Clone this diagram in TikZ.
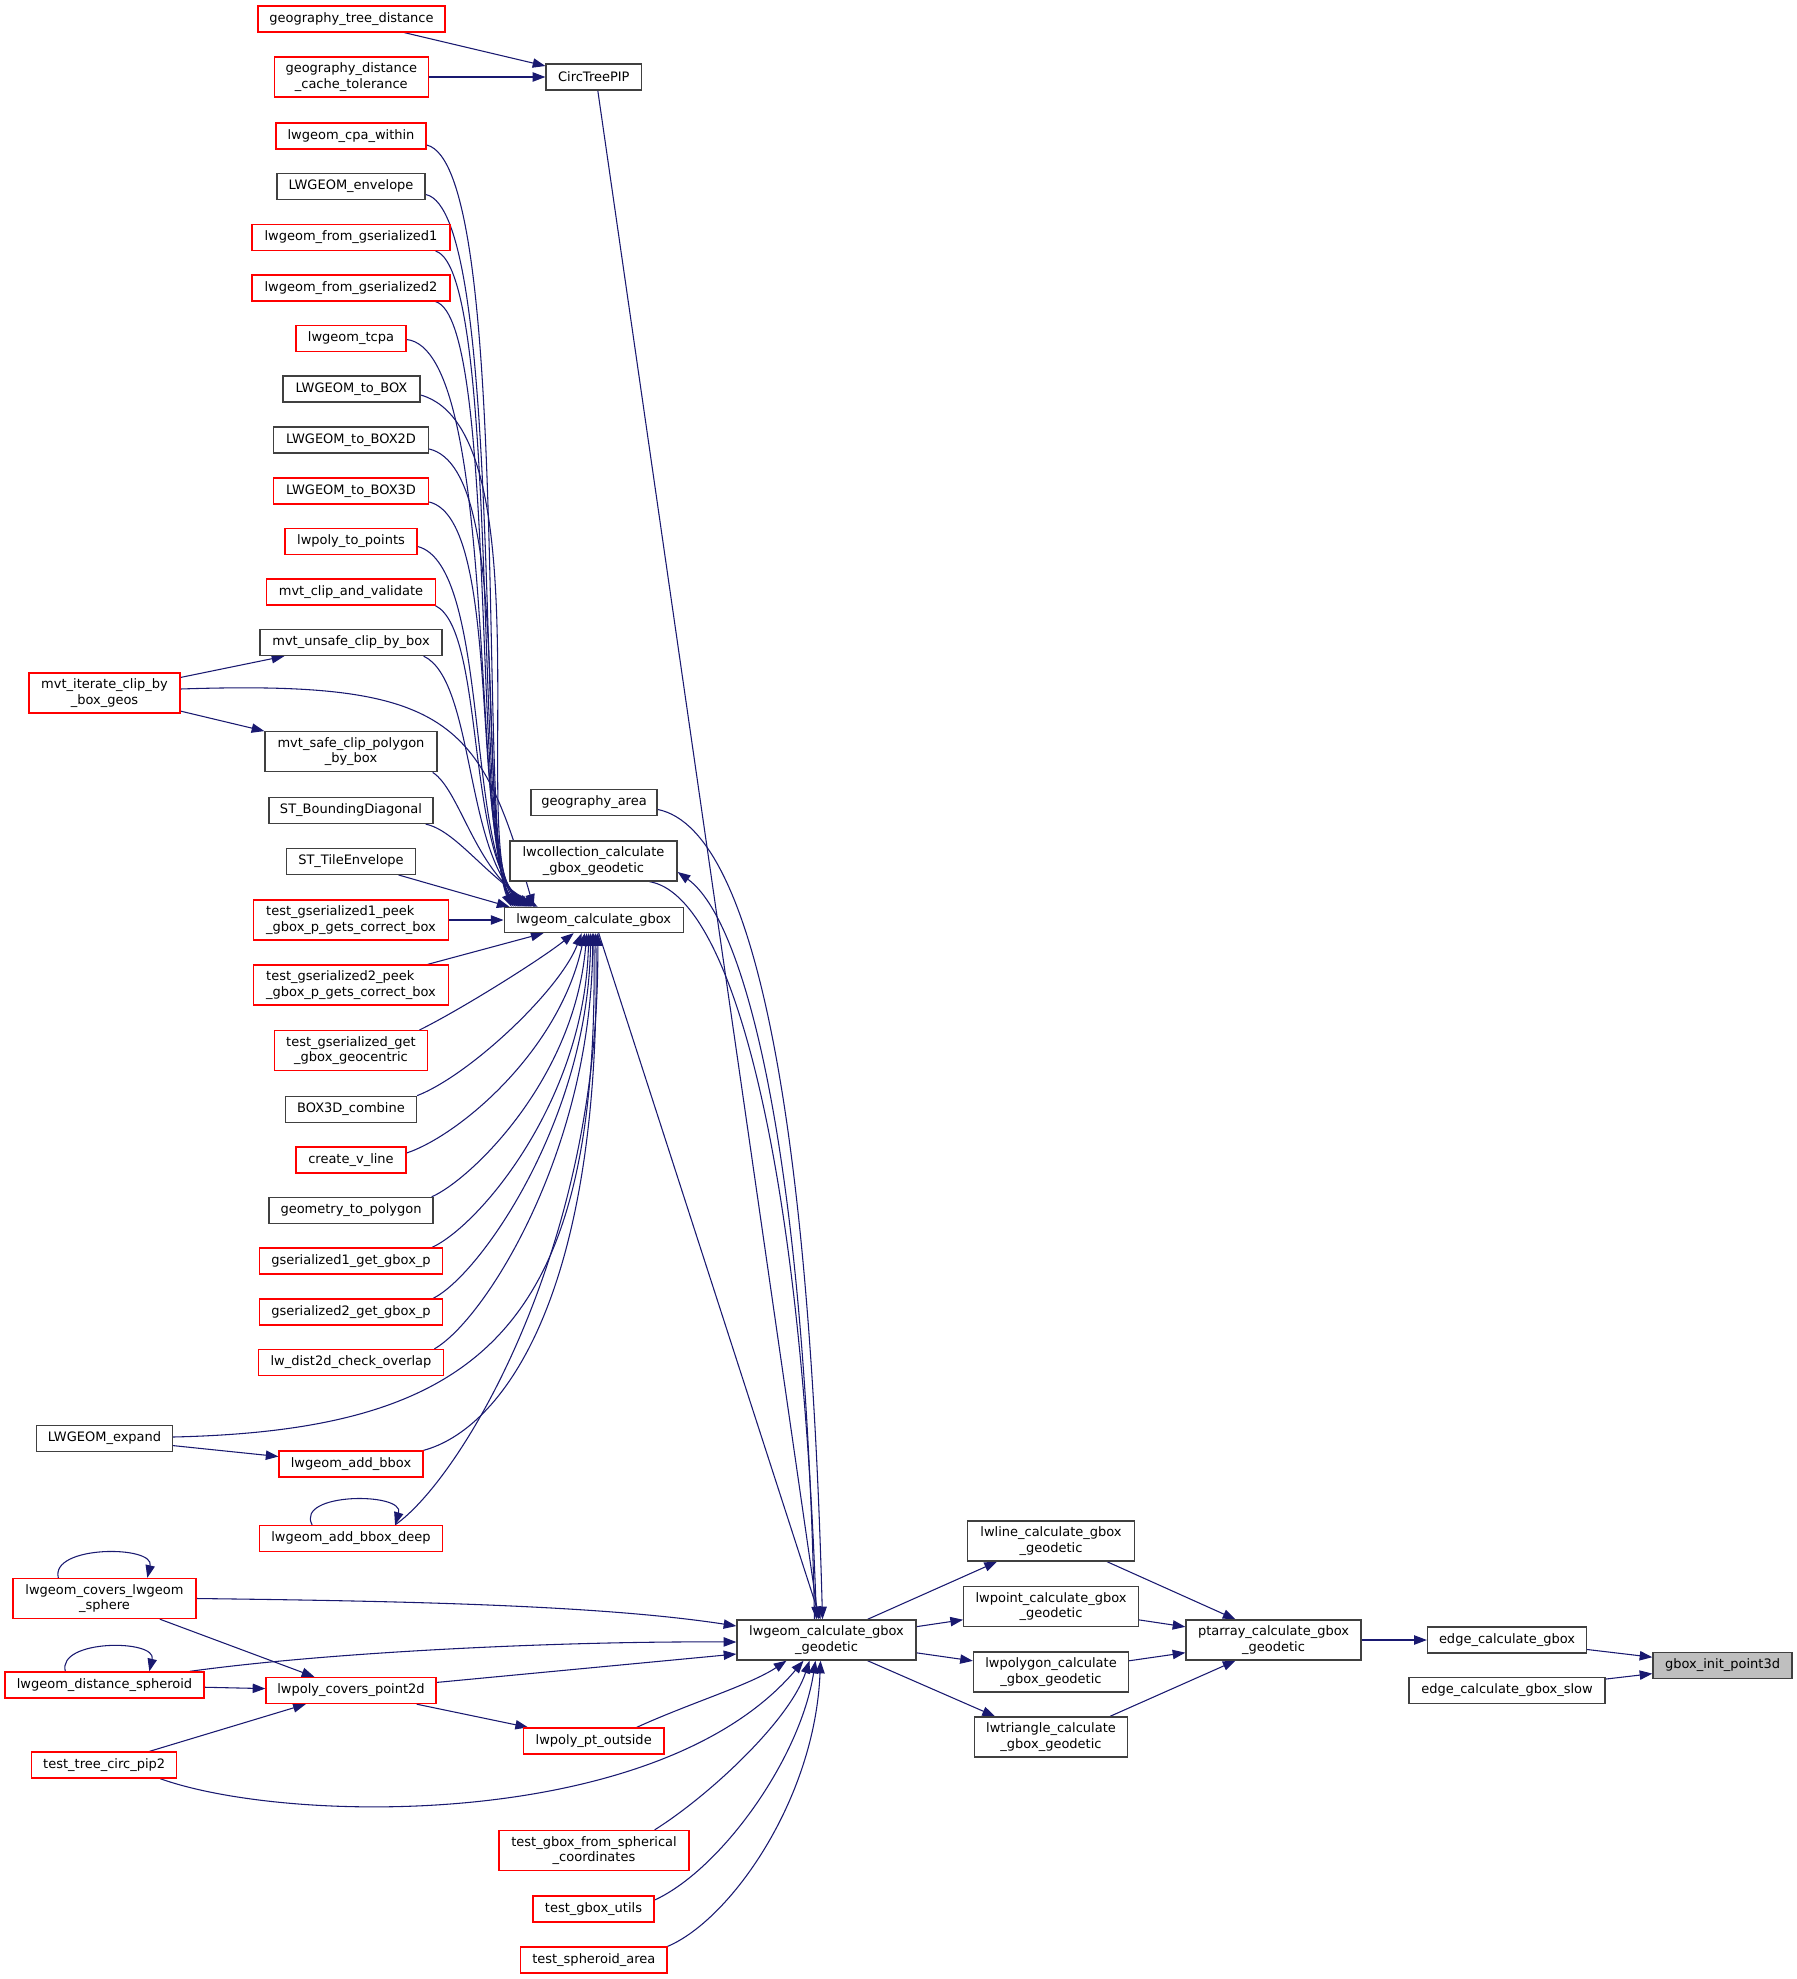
\documentclass[tikz,border=0pt]{standalone}
\usepackage{fontspec}
\setmainfont{DejaVu Sans}
\usetikzlibrary{arrows.meta,calc}
\definecolor{edgec}{HTML}{191970}
\definecolor{nodegray}{HTML}{404040}
\definecolor{rootfill}{HTML}{BFBFBF}
\pgfdeclarelayer{background}
\pgfsetlayers{background,main}
\begin{document}
\begin{tikzpicture}[x=0.75pt,y=-0.75pt,
  base/.style={rectangle, line width=1pt, inner xsep=1pt, inner ysep=0pt, fill=white,
    font=\fontsize{9.75}{11.5}\selectfont, align=center},
  rn/.style={base, draw=red},
  bn/.style={base, draw=nodegray},
  rootn/.style={base, draw=nodegray, fill=rootfill},
  wh/.style 2 args={minimum width=#1*0.75pt, minimum height=#2*0.75pt},
  edge/.style={draw=edgec, line width=0.8pt, -{Triangle[length=9.5pt,width=7pt]}}]
\useasboundingbox (0,0) rectangle (1797,1979);

% ---------- nodes ----------
\node[rn, wh={187}{26}] (gtd) at (351.5,19) {geography\_tree\_distance};
\node[rn, wh={154}{40}] (gdct) at (351.3,77) {geography\_distance\\\_cache\_tolerance};
\node[bn, wh={95.5}{26}] (ctp) at (593.8,77) {CircTreePIP};
\node[rn, wh={150}{26}] (cpa) at (351,136) {lwgeom\_cpa\_within};
\node[bn, wh={148}{26}] (env) at (351,186.5) {LWGEOM\_envelope};
\node[rn, wh={198}{26}] (fg1) at (351,237.5) {lwgeom\_from\_gserialized1};
\node[rn, wh={198}{26}] (fg2) at (351,288) {lwgeom\_from\_gserialized2};
\node[rn, wh={110}{26}] (tcpa) at (351,338.5) {lwgeom\_tcpa};
\node[bn, wh={137}{26}] (tobox) at (351.5,389) {LWGEOM\_to\_BOX};
\node[bn, wh={155}{26}] (tobox2) at (351,440) {LWGEOM\_to\_BOX2D};
\node[rn, wh={155}{26}] (tobox3) at (351,491) {LWGEOM\_to\_BOX3D};
\node[rn, wh={132}{26}] (ltp) at (351,541.5) {lwpoly\_to\_points};
\node[rn, wh={169.5}{26}] (mcv) at (351,592) {mvt\_clip\_and\_validate};
\node[bn, wh={182}{26}] (mucb) at (351,642.5) {mvt\_unsafe\_clip\_by\_box};
\node[rn, wh={151}{40}] (micb) at (104.5,693) {mvt\_iterate\_clip\_by\\\_box\_geos};
\node[bn, wh={172}{40}] (mscp) at (351,751.7) {mvt\_safe\_clip\_polygon\\\_by\_box};
\node[bn, wh={164}{26}] (stbd) at (351,810.5) {ST\_BoundingDiagonal};
\node[bn, wh={129.5}{26}] (stte) at (351,861.3) {ST\_TileEnvelope};
\node[rn, wh={195}{40}, align=left] (tgp1) at (351,920) {test\_gserialized1\_peek\\\_gbox\_p\_gets\_correct\_box};
\node[rn, wh={195}{40}, align=left] (tgp2) at (351,985) {test\_gserialized2\_peek\\\_gbox\_p\_gets\_correct\_box};
\node[rn, wh={153.5}{40}] (tgg) at (351,1050.7) {test\_gserialized\_get\\\_gbox\_geocentric};
\node[bn, wh={131}{26}] (b3c) at (351,1109.3) {BOX3D\_combine};
\node[rn, wh={110}{26}] (cvl) at (351,1160) {create\_v\_line};
\node[bn, wh={164}{26}] (gtp) at (351,1210.5) {geometry\_to\_polygon};
\node[rn, wh={183}{26}] (g1g) at (351,1261) {gserialized1\_get\_gbox\_p};
\node[rn, wh={183}{26}] (g2g) at (351,1312) {gserialized2\_get\_gbox\_p};
\node[rn, wh={185.5}{26}] (ldc) at (351,1362.5) {lw\_dist2d\_check\_overlap};
\node[bn, wh={135.7}{26}] (lexp) at (104.5,1438.5) {LWGEOM\_expand};
\node[rn, wh={143.7}{26}] (lab) at (351,1464) {lwgeom\_add\_bbox};
\node[rn, wh={182.5}{26}] (labd) at (351,1538.5) {lwgeom\_add\_bbox\_deep};
\node[rn, wh={183}{40}] (lcls) at (104.5,1598.5) {lwgeom\_covers\_lwgeom\\\_sphere};
\node[rn, wh={199}{26}] (lds) at (104.5,1685) {lwgeom\_distance\_spheroid};
\node[rn, wh={170}{26}] (lcp) at (351,1690.5) {lwpoly\_covers\_point2d};
\node[rn, wh={145}{26}] (ttc) at (104.2,1765) {test\_tree\_circ\_pip2};

\node[bn, wh={126.3}{25.5}] (garea) at (594,802.5) {geography\_area};
\node[bn, wh={167}{40}] (lcoll) at (593.5,861) {lwcollection\_calculate\\\_gbox\_geodetic};
\node[bn, wh={179}{25}] (lcg) at (593.7,920) {lwgeom\_calculate\_gbox};
\node[rn, wh={140.5}{26}] (lpo) at (593.7,1741) {lwpoly\_pt\_outside};
\node[rn, wh={190}{40}] (tgfs) at (594,1850.5) {test\_gbox\_from\_spherical\\\_coordinates};
\node[rn, wh={121}{26}] (tgu) at (593.5,1909) {test\_gbox\_utils};
\node[rn, wh={146.4}{26}] (tsa) at (593.8,1960) {test\_spheroid\_area};

\node[bn, wh={179}{40}] (lcgg) at (826.5,1640) {lwgeom\_calculate\_gbox\\\_geodetic};
\node[bn, wh={167}{40}] (llg) at (1051,1541) {lwline\_calculate\_gbox\\\_geodetic};
\node[bn, wh={174.6}{40}] (lpg) at (1051,1606.7) {lwpoint\_calculate\_gbox\\\_geodetic};
\node[bn, wh={155}{40}] (lpolg) at (1051,1672) {lwpolygon\_calculate\\\_gbox\_geodetic};
\node[bn, wh={153}{40}] (ltg) at (1051,1737) {lwtriangle\_calculate\\\_gbox\_geodetic};
\node[bn, wh={175}{40}] (pag) at (1273.5,1640) {ptarray\_calculate\_gbox\\\_geodetic};
\node[bn, wh={159}{26}] (ecg) at (1507,1640) {edge\_calculate\_gbox};
\node[bn, wh={196}{26}] (ecgs) at (1507,1690.5) {edge\_calculate\_gbox\_slow};
\node[rootn, wh={139}{25.5}] (root) at (1722.5,1665.5) {gbox\_init\_point3d};

% ---------- edges ----------
\begin{pgfonlayer}{background}
\fill[white] (0,0) rectangle (1797,1979);
% right part
\draw[edge] (ecg) -- (root);
\draw[edge] (ecgs) -- (root);
\draw[edge] (pag) -- (ecg);
\draw[edge] ($(llg.south)+(56,0)$) -- ($(pag.north)+(-38,0)$);
\draw[edge] (lpg) -- (pag);
\draw[edge] (lpolg) -- (pag);
\draw[edge] ($(ltg.north)+(59,0)$) -- ($(pag.south)+(-38,0)$);
\draw[edge] ($(lcgg.north)+(41,0)$) -- ($(llg.south)+(-54,0)$);
\draw[edge] (lcgg) -- (lpg);
\draw[edge] (lcgg) -- (lpolg);
\draw[edge] ($(lcgg.south)+(41,0)$) -- ($(ltg.north)+(-56,0)$);
% CircTreePIP
\draw[edge] ($(gtd.south)+(53,0)$) -- ($(ctp.west)+(0,-11)$);
\draw[edge] (gdct) -- (ctp);
\draw[edge] ($(ctp.south)+(4,0)$) -- ($(lcgg.north)+(-8,0)$);
% callers of lwgeom_calculate_gbox_geodetic
\draw[edge] ($(garea.east)+(0,7)$) .. controls (760,830) and (810,1150) .. ($(lcgg.north)+(-4,0)$);
\draw[edge] ($(lcoll.south)+(56,0)$) .. controls (730,895) and (800,1150) .. ($(lcgg.north)+(-10,0)$);
\draw[edge] ($(lcgg.north)+(-12,0)$) .. controls (805,1150) and (745,920) .. ($(lcoll.east)+(0,11)$);
\draw[edge] ($(lcg.south)+(5,0)$) -- ($(lcgg.north)+(-6,0)$);
\draw[edge] (lcls.east) .. controls (400,1601) and (600,1605) .. ($(lcgg.west)+(0,-14)$);
\draw[edge] ($(lds.north east)+(-15,0)$) .. controls (330,1652) and (560,1641) .. ($(lcgg.west)+(0,2)$);
\draw[edge] (lcp) -- ($(lcgg.west)+(0,14)$);
\draw[edge] ($(lpo.north)+(43,0)$) .. controls (690,1703) and (750,1685) .. ($(lcgg.south)+(-40,0)$);
\draw[edge] ($(ttc.south)+(56,0)$) .. controls (290,1825) and (660,1830) .. ($(lcgg.south)+(-23,0)$);
\draw[edge] ($(tgfs.north east)+(-35,0)$) .. controls (710,1795) and (790,1720) .. ($(lcgg.south)+(-17,0)$);
\draw[edge] ($(tgu.east)+(0,-9)$) .. controls (720,1870) and (800,1760) .. ($(lcgg.south)+(-11,0)$);
\draw[edge] (tsa.north east) .. controls (730,1920) and (815,1800) .. ($(lcgg.south)+(-6,0)$);
% lwpoly_covers_point2d and friends
\draw[edge] (lcls) -- (lcp);
\draw[edge] (lds) -- (lcp);
\draw[edge] (ttc) -- (lcp);
\draw[edge] (lcp) -- (lpo);
% self loops
\draw[edge] ($(labd.north west)+(53,0)$) .. controls (295,1492) and (405,1492) .. ($(labd.north west)+(136,0)$);
\draw[edge] ($(lcls.north west)+(46,0)$) .. controls (50,1545) and (155,1545) .. ($(lcls.north west)+(135,0)$);
\draw[edge] ($(lds.north west)+(61,0)$) .. controls (57,1639) and (157,1639) .. ($(lds.north west)+(145,0)$);
% mvt / expand
\draw[edge] (micb) -- (mucb);
\draw[edge] (micb) -- (mscp);
\draw[edge] (lexp) -- (lab);
% callers of lwgeom_calculate_gbox : top bundle
\draw[edge] ($(cpa.east)+(0,9)$) .. controls (512,165) and (478,830) .. ($(lcg.north west)+(8,0)$);
\draw[edge] ($(env.east)+(0,8)$) .. controls (505,210) and (476,835) .. ($(lcg.north west)+(10,0)$);
\draw[edge] ($(fg1.south east)+(-15,0)$) .. controls (500,270) and (474,840) .. ($(lcg.north west)+(12,0)$);
\draw[edge] ($(fg2.south east)+(-15,0)$) .. controls (498,320) and (472,845) .. ($(lcg.north west)+(14,0)$);
\draw[edge] ($(tcpa.east)+(0,1)$) .. controls (500,350) and (470,850) .. ($(lcg.north west)+(16,0)$);
\draw[edge] ($(tobox.east)+(0,6)$) .. controls (545,430) and (470,850) .. ($(lcg.north west)+(18,0)$);
\draw[edge] ($(tobox2.east)+(0,9)$) .. controls (520,470) and (470,850) .. ($(lcg.north west)+(20,0)$);
\draw[edge] ($(tobox3.east)+(0,11)$) .. controls (505,520) and (468,850) .. ($(lcg.north west)+(22,0)$);
\draw[edge] ($(ltp.east)+(0,5)$) .. controls (490,565) and (466,855) .. ($(lcg.north west)+(24,0)$);
\draw[edge] ($(mcv.south east)+(-1,0)$) .. controls (485,630) and (466,855) .. ($(lcg.north west)+(26,0)$);
\draw[edge] ($(mucb.south east)+(-19,0)$) .. controls (475,680) and (465,860) .. ($(lcg.north west)+(28,0)$);
\draw[edge] ($(micb.east)+(0,-4)$) .. controls (450,680) and (480,720) .. ($(lcg.north west)+(30,0)$);
\draw[edge] ($(mscp.south east)+(-5,0)$) .. controls (460,790) and (475,870) .. ($(lcg.north west)+(32,0)$);
\draw[edge] ($(stbd.south east)+(-8,0)$) .. controls (455,830) and (485,875) .. ($(lcg.north west)+(34,0)$);
\draw[edge] (stte) -- ($(lcg.north west)+(6,0)$);
\draw[edge] (tgp1) -- (lcg);
\draw[edge] (tgp2) -- ($(lcg.south west)+(40,0)$);
% callers of lwgeom_calculate_gbox : bottom bundle
\draw[edge] ($(tgg.north east)+(-9,0)$) .. controls (460,1010) and (540,960) .. ($(lcg.south)+(-20,0)$);
\draw[edge] (b3c.north east) .. controls (470,1075) and (560,990) .. ($(lcg.south)+(-12,0)$);
\draw[edge] ($(cvl.east)+(0,-7)$) .. controls (460,1135) and (560,1050) .. ($(lcg.south)+(-9,0)$);
\draw[edge] ($(gtp.north east)+(-2,0)$) .. controls (470,1180) and (575,1080) .. ($(lcg.south)+(-7,0)$);
\draw[edge] ($(g1g.north east)+(-11,0)$) .. controls (480,1225) and (585,1100) .. ($(lcg.south)+(-5,0)$);
\draw[edge] ($(g2g.north east)+(-10,0)$) .. controls (480,1275) and (588,1120) .. ($(lcg.south)+(-3,0)$);
\draw[edge] ($(ldc.north east)+(-10,0)$) .. controls (485,1320) and (592,1150) .. ($(lcg.south)+(-1,0)$);
\draw[edge] ($(lexp.east)+(0,-1.5)$) .. controls (480,1430) and (600,1330) .. ($(lcg.south)+(0,0)$);
\draw[edge] (lab.north east) .. controls (500,1430) and (602,1300) .. ($(lcg.south)+(2,0)$);
\draw[edge] ($(labd.north west)+(136,0)$) .. controls (460,1480) and (600,1250) .. ($(lcg.south)+(4,0)$);
\end{pgfonlayer}
\end{tikzpicture}
\end{document}
